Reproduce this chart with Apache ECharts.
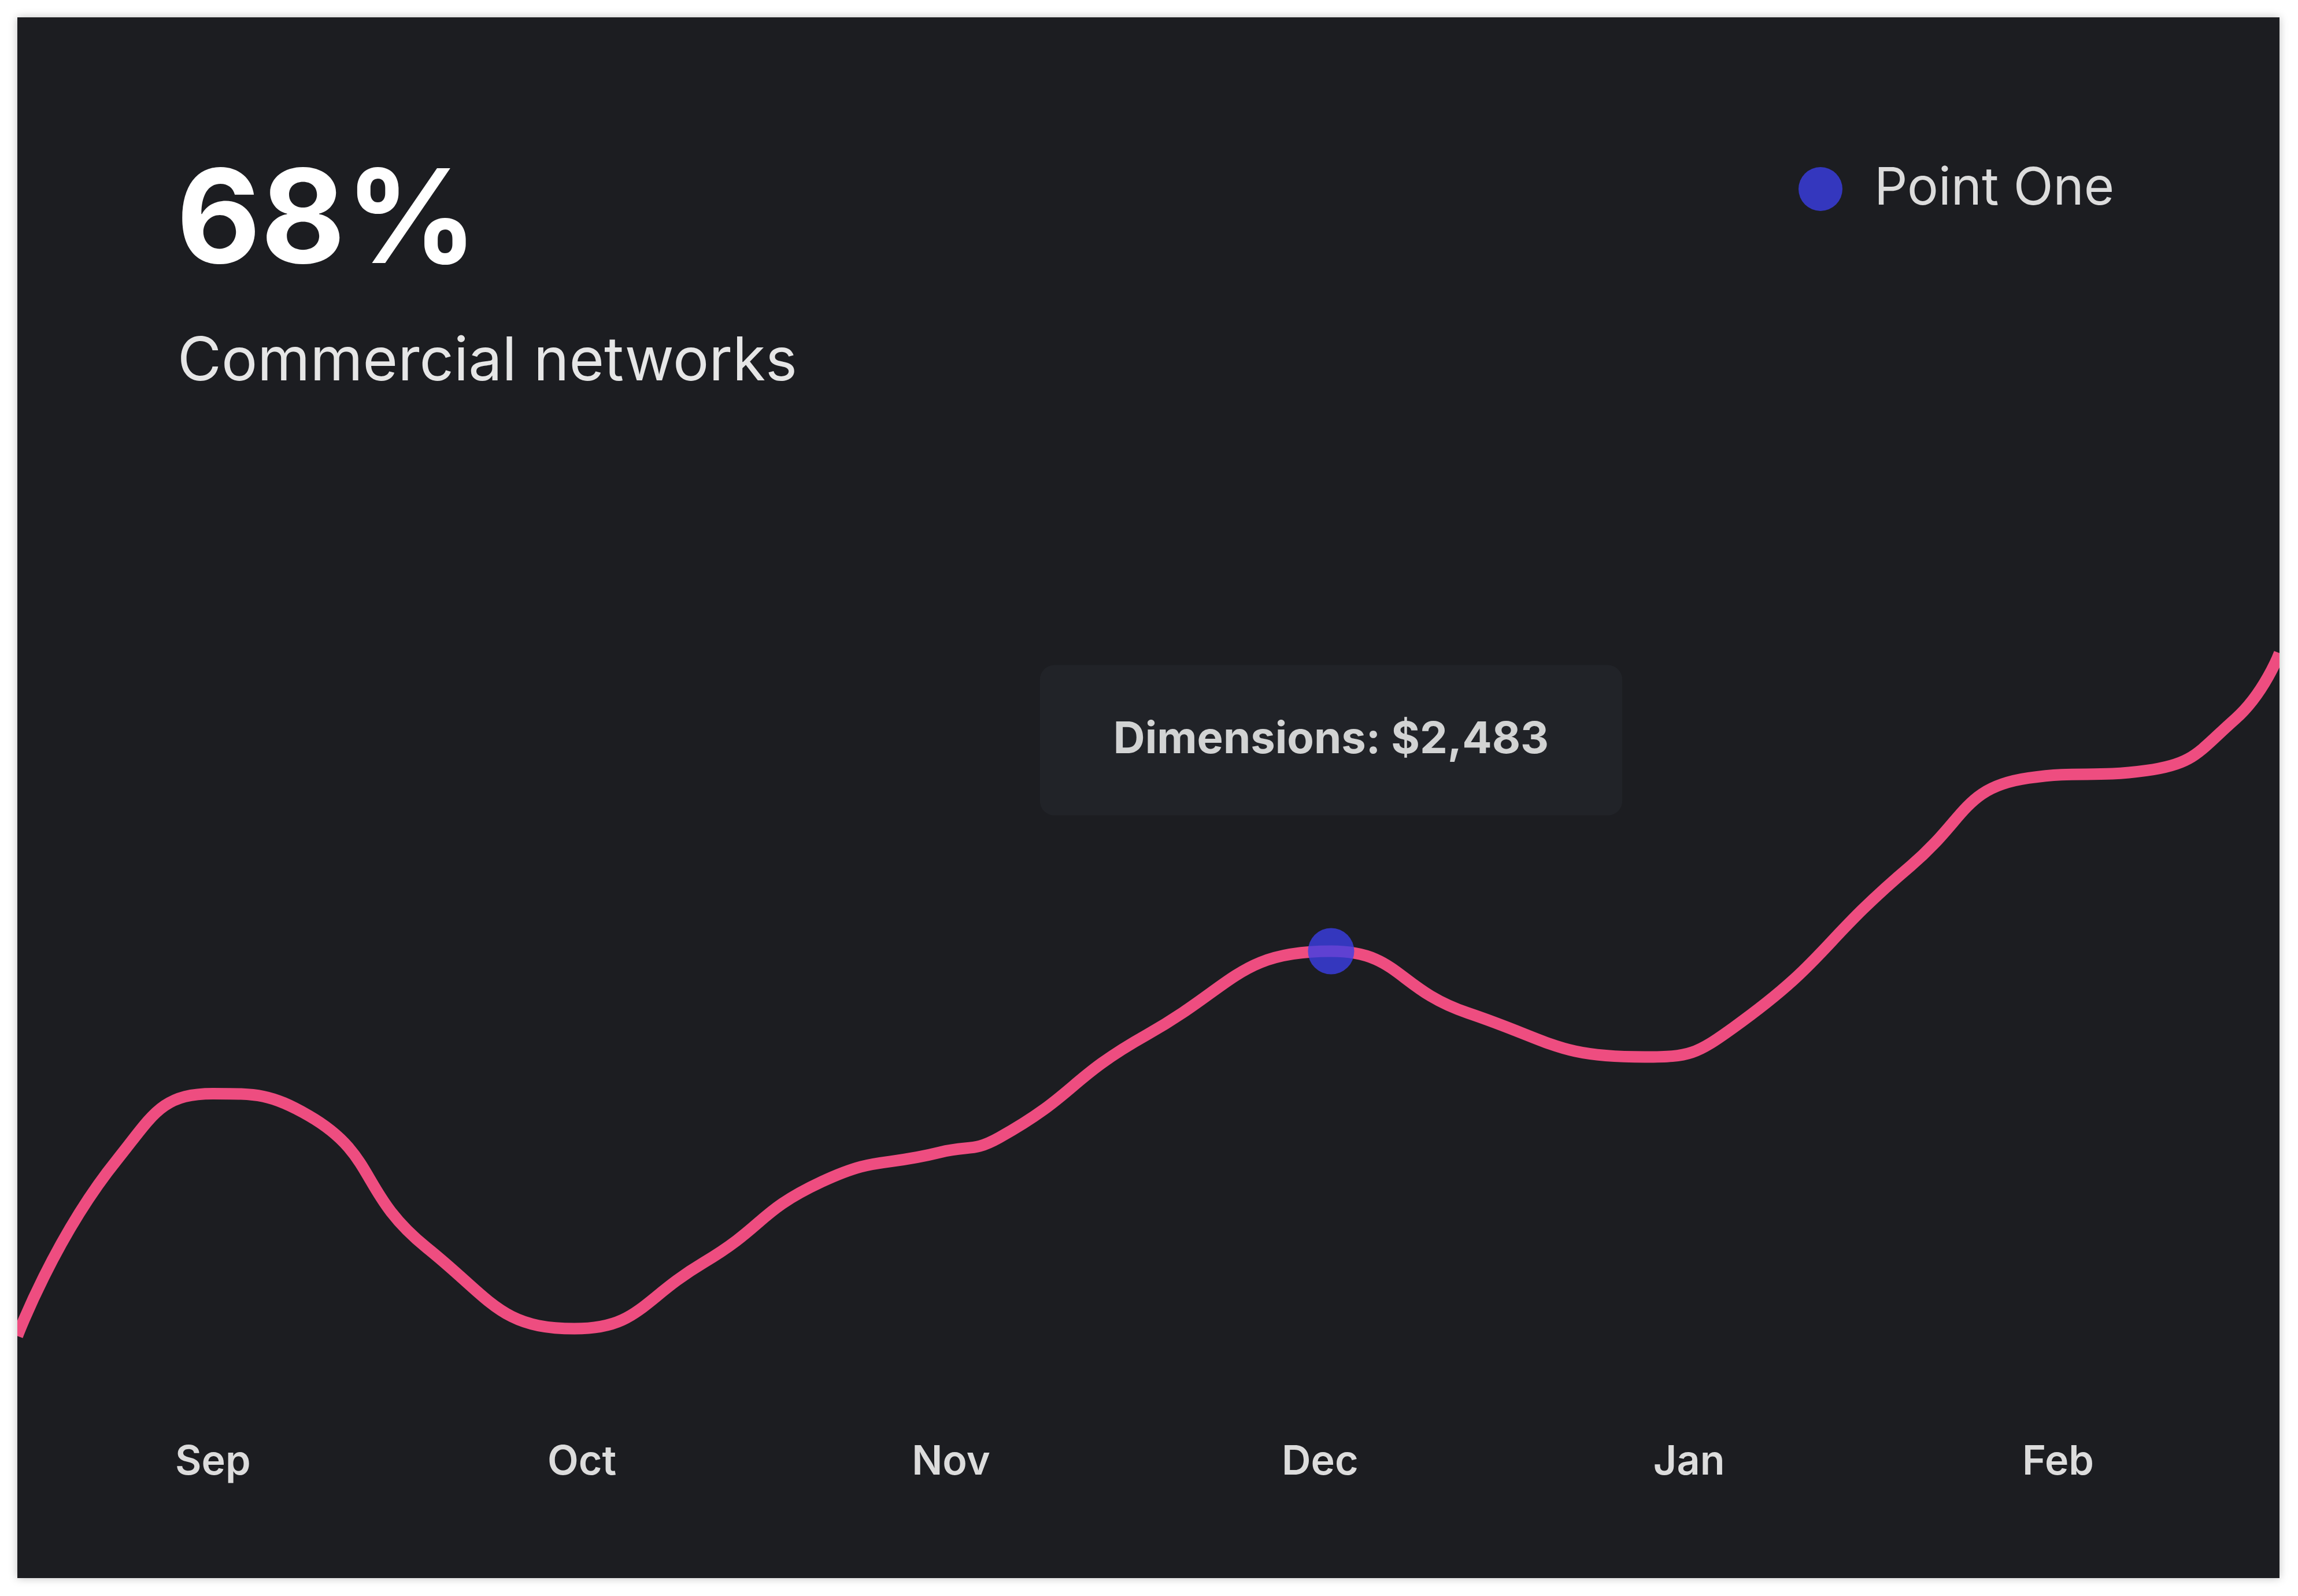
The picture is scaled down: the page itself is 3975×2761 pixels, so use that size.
<!DOCTYPE html>
<html><head><meta charset="utf-8">
<script src="https://cdn.jsdelivr.net/npm/echarts@6/dist/echarts.min.js"></script>
<style>
html,body{margin:0;padding:0;background:#fff;width:3975px;height:2761px;overflow:hidden}
#card{position:absolute;left:30px;top:30px;width:3913px;height:2700px;background:#1c1d21;box-shadow:0 0 14px rgba(0,0,0,0.25)}
#c{width:100%;height:100%}
</style></head><body>
<div id="card"><div id="c"></div></div>
<script>
const monthLabels = ['Sep','Oct','Nov','Dec','Jan','Feb'];
const monthPositions = [0,1,2,3,4,5];
const lineX = [-0.53,-0.26,0,0.26,0.58,0.98,1.33,1.65,1.97,2.13,2.53,3.03,3.4,3.88,4.12,4.6,4.92,5.24,5.48,5.6];
const lineY = [635,1481,1799,1693,1058,670,988,1376,1517,1587,2081,2483,2187,1975,2116,2892,3315,3351,3598,3915];
const highlightPoint = [3.03, 2483];
const highlightLabel = 'Dimensions: $2,483';
const headline = '68%';
const subtitle = 'Commercial networks';
const legendName = 'Point One';

const chart = echarts.init(document.getElementById('c'));
chart.setOption({
  backgroundColor: 'transparent',
  textStyle: {fontFamily: 'Inter'},
  grid: {left: 0, right: 0, top: 709, bottom: 10},
  title: [
    {text: headline, left: 270, top: 240, textStyle: {color: '#ffffff', fontSize: 225, fontWeight: 'bold', fontFamily: 'Inter'}},
    {text: subtitle, left: 272, top: 540, textStyle: {color: '#e6e6e6', fontSize: 104, fontWeight: 'normal', fontFamily: 'Inter'}}
  ],
  legend: {
    data: [{name: legendName, icon: 'circle'}],
    left: 3076, top: 247, itemWidth: 76, itemHeight: 76,
    textStyle: {color: '#dcdcdc', fontSize: 90, padding: [0,0,0,50], fontFamily: 'Inter'}
  },
  xAxis: {
    type: 'value', min: -0.53, max: 5.6,
    splitLine: {show: false}, axisLine: {show: false}, axisTick: {show: false},
    axisLabel: {
      customValues: monthPositions,
      formatter: v => monthLabels[Math.round(v)] || '',
      color: '#dcdcdc', fontSize: 70, fontWeight: 600, margin: -190, verticalAlign: 'middle'
    }
  },
  yAxis: {type: 'value', min: -500, max: 5000, show: false, splitLine: {show: false}},
  series: [
    {
      type: 'line', smooth: 0.5, showSymbol: false,
      data: lineX.map((x, i) => [x, lineY[i]]),
      lineStyle: {color: '#ee4d80', width: 20}, silent: true, z: 2
    },
    {
      name: legendName, type: 'scatter', symbolSize: 80,
      itemStyle: {color: '#3b3ee6'}, z: 3,
      data: [highlightPoint],
      label: {
        show: true, position: 'top', distance: 195,
        formatter: highlightLabel,
        color: '#ffffff', fontSize: 76, fontWeight: 'bold', fontFamily: 'Inter',
        backgroundColor: '#23262b', borderRadius: 25, padding: [92, 127]
      }
    }
  ]
});
</script></body></html>
